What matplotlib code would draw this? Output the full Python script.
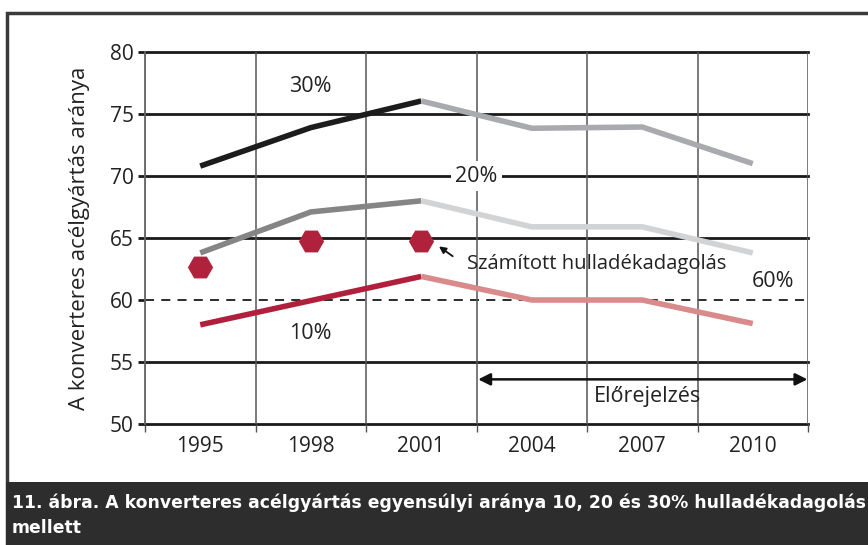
import matplotlib
matplotlib.use("Agg")
import matplotlib.pyplot as plt
from matplotlib.patches import Rectangle
import numpy as np

plt.rcParams['font.family'] = ['Open Sans', 'DejaVu Sans']

years = ["1995", "1998", "2001", "2004", "2007", "2010"]
s30 = [70.8, 73.9, 76.05, 73.85, 73.95, 71.0]
s20 = [63.8, 67.1, 68.0, 65.9, 65.9, 63.8]
s10 = [58.0, 59.95, 61.9, 60.0, 60.0, 58.1]
calc = [62.7, 64.75, 64.75]
yticks = [50, 55, 60, 65, 70, 75, 80]
ref_level = 60

W, H = 868, 545
fig = plt.figure(figsize=(W / 100, H / 100), dpi=100)

# outer frame and caption band
fig.patches.append(Rectangle((7 / W, 0), 1.0, (H - 13) / H, transform=fig.transFigure,
                             fill=False, edgecolor='#3a3a3a', linewidth=2.5, zorder=0))
fig.patches.append(Rectangle((6 / W, 0), 1.0, (H - 482) / H, transform=fig.transFigure,
                             facecolor='#2d2d2d', edgecolor='none', zorder=1))

ax = fig.add_axes([145 / W, 1 - 424 / H, (808 - 145) / W, (424 - 52) / H])
x = np.arange(len(years))
ax.set_xlim(-0.5, len(years) - 0.5)
ax.set_ylim(50, 80)

for s in ['top', 'bottom', 'right']:
    ax.spines[s].set_visible(False)
ax.spines['left'].set_color('#666666')
ax.spines['left'].set_linewidth(1.3)

# horizontal grid
for yv in yticks:
    if yv == ref_level:
        continue
    ax.axhline(yv, color='#1a1a1a', lw=2.0, zorder=1, clip_on=False)
ax.axhline(ref_level, color='#1a1a1a', lw=1.3, ls=(0, (5, 4)), zorder=1)
# vertical grid at category boundaries
for b in np.arange(-0.5, len(years), 1.0):
    ax.axvline(b, color='#555555', lw=1.1, zorder=1)

ax.set_yticks(yticks)
ax.tick_params(axis='y', direction='out', length=5, width=2, color='#1a1a1a',
               labelsize=15, labelcolor='#222222', pad=3)
ax.set_xticks(np.arange(-0.5, len(years), 1.0), minor=False)
ax.set_xticklabels([])
ax.set_xticks(x, minor=True)
ax.set_xticklabels(years, minor=True)
ax.tick_params(axis='x', which='major', direction='out', length=6, width=1, color='#555555')
ax.tick_params(axis='x', which='minor', length=0, labelsize=15, labelcolor='#222222', pad=9)

ax.set_ylabel("A konverteres acélgyártás aránya", fontsize=16, color='#222222', labelpad=14)

hist = slice(0, 3)
fut = slice(2, 6)
lw = 4
ax.plot(x[hist], s30[hist], color='#1c1c1c', lw=lw, solid_capstyle='butt', zorder=3)
ax.plot(x[fut], s30[fut], color='#a9aab0', lw=lw, solid_capstyle='butt', zorder=3)
ax.plot(x[hist], s20[hist], color='#858585', lw=lw, solid_capstyle='butt', zorder=3)
ax.plot(x[fut], s20[fut], color='#d2d3d5', lw=lw, solid_capstyle='butt', zorder=3)
ax.plot(x[hist], s10[hist], color='#b0203c', lw=lw, solid_capstyle='butt', zorder=3)
ax.plot(x[fut], s10[fut], color='#d98a8a', lw=lw, solid_capstyle='butt', zorder=3)

ax.plot(x[:3], calc, linestyle='none', marker='H', markersize=17, color='#b0223c',
        markeredgecolor='#b0223c', zorder=4)

tkw = dict(fontsize=15.5, color='#222222', ha='center', va='center')
ax.text(1.0, 77.25, "30%", **tkw)
ax.text(2.5, 70.0, "20%", bbox=dict(facecolor='white', edgecolor='none', pad=3), zorder=2, **tkw)
ax.text(1.0, 57.3, "10%", **tkw)
ax.text(5.18, 61.5, "60%", **tkw)
ax.text(2.41, 62.9, "Számított hulladékadagolás", fontsize=14.6, color='#222222',
        ha='left', va='center')
ax.annotate("", xy=(2.14, 64.45), xytext=(2.305, 63.4),
            arrowprops=dict(arrowstyle='-|>', color='#111111', lw=1.3, mutation_scale=10))
ax.annotate("", xy=(2.49, 53.6), xytext=(5.52, 53.6),
            arrowprops=dict(arrowstyle='<|-|>', color='#111111', lw=1.8, mutation_scale=18),
            annotation_clip=False)
ax.text(4.05, 52.2, "Előrejelzés", **tkw)

cap1 = "11. ábra. A konverteres acélgyártás egyensúlyi aránya 10, 20 és 30% hulladékadagolás"
cap2 = "mellett"
ckw = dict(color='white', fontweight='bold', fontsize=12, va='center', ha='left',
           family=['DejaVu Sans'])
t1 = fig.text(12 / W, 1 - 503 / H, cap1, **ckw)
t2 = fig.text(12 / W, 1 - 528 / H, cap2, **ckw)
fig.canvas.draw()
r = fig.canvas.get_renderer()
w = t1.get_window_extent(r).width
target = 850
fs = 12 * target / w
t1.set_fontsize(fs)
t2.set_fontsize(fs)

fig.savefig("out.png", dpi=100)
